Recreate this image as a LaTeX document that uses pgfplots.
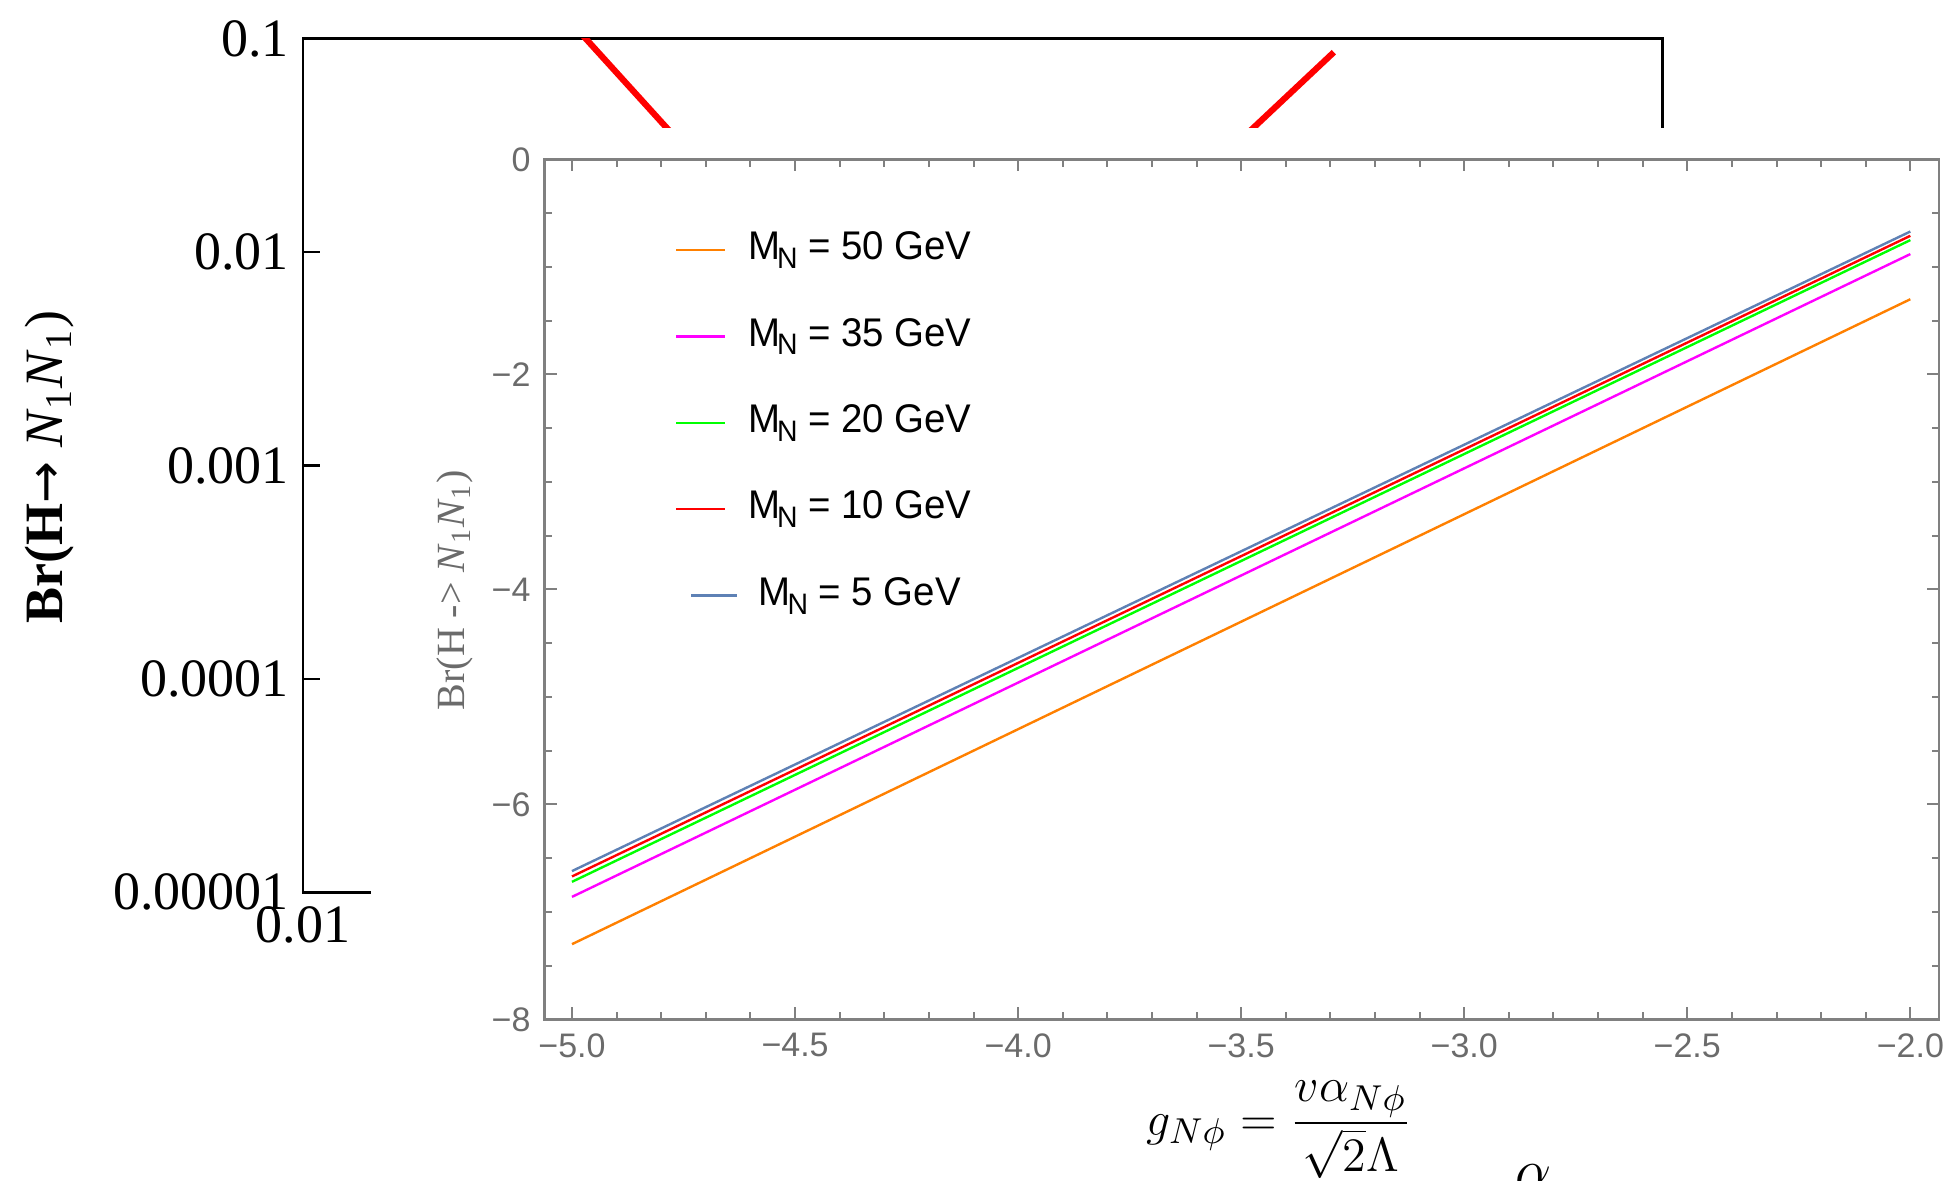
\documentclass[border=0pt]{standalone}
\usepackage{pgfplots}
\pgfplotsset{compat=1.18}
\usepackage{fontspec}
\setmainfont{Liberation Serif}
\newfontfamily\arial{Liberation Sans}
\newfontfamily\arialn{Liberation Sans}[FakeStretch=0.96]
\newfontfamily\dvs{DejaVu Sans}
\definecolor{mOrange}{rgb}{1,0.5,0}
\definecolor{mMag}{rgb}{1,0,1}
\definecolor{mGreen}{rgb}{0,1,0}
\definecolor{mRed}{rgb}{1,0,0}
\definecolor{mBlue}{rgb}{0.368417,0.506779,0.709798}
\definecolor{tickgray}{rgb}{0.42,0.42,0.42}
\definecolor{framegray}{rgb}{0.5,0.5,0.5}
\pgfplotsset{
  normleg/.style={legend image code/.code={\draw[##1] (0pt,0pt) -- (12.2pt,0pt);}},
  shiftleg/.style={legend image code/.code={\draw[##1] (3.75pt,0pt) -- (15.25pt,0pt);}},
}
\newcommand{\MN}[1]{M\kern-0.8pt\raisebox{-2.2pt}{\fontsize{7.4pt}{8pt}\selectfont N} = #1 GeV}
\begin{document}
\begin{tikzpicture}
\useasboundingbox (0pt,0pt) rectangle (488.5pt,295pt);
\clip (0pt,0pt) rectangle (488.5pt,295pt);
% background log-log axis
\begin{axis}[name=bg, anchor=south west, at={(75.7pt,71.925pt)},
  scale only axis, width=339.9pt, height=213.43pt,
  xmode=log, ymode=log, xmin=0.01, xmax=10, ymin=1e-5, ymax=0.1,
  xtick={0.01}, xticklabels={0.01},
  ytick={1e-5,1e-4,1e-3,1e-2,1e-1},
  yticklabels={0.00001,0.0001,0.001,0.01,0.1},
  xminorticks=false, yminorticks=false,
  ytick pos=left, xtick pos=bottom,
  major tick length=4.35pt,
  tick style={black, line width=0.6pt},
  axis line style={black, line width=0.6pt},
  tick label style={font=\fontsize{13.5pt}{15pt}\selectfont},
]
\addplot[mRed, line width=1.55pt] coordinates {(0.0401,0.112) (0.1,0.0132) (0.4,0.003) (0.631,0.0098) (1.249,0.0380) (1.884,0.0863)};
\end{axis}
\node[rotate=90, font=\fontsize{13.5pt}{15pt}\selectfont] at (12.5pt,178.25pt) {\textbf{Br(H}{\dvs\fontsize{12.5pt}{15pt}\selectfont →} \textit{N}\textsubscript{1}\textit{N}\textsubscript{1})};
% white inset background
\fill[white] (92.85pt,0pt) rectangle (488.5pt,262.9pt);
\begin{axis}[name=inset, anchor=south west, at={(136.15pt,40.15pt)},
  scale only axis, width=348.6pt, height=214.98pt,
  xmin=-5.0614, xmax=-1.9357, ymin=-8, ymax=0,
  xtick={-5,-4.5,-4,-3.5,-3,-2.5,-2},
  xticklabels={−5.0,−4.5,−4.0,−3.5,−3.0,−2.5,−2.0},
  ytick={-8,-6,-4,-2,0},
  yticklabels={−8,−6,−4,−2,0},
  minor x tick num=4, minor y tick num=3,
  major tick length=3pt, minor tick length=1.8pt,
  tick style={framegray, line width=0.5pt},
  axis line style={framegray, line width=0.6pt},
  tick label style={font=\arial\fontsize{8.5pt}{10pt}\selectfont, text=tickgray},
  legend cell align=center,
  normleg,
  legend style={at={(0.0928,0.9178)}, anchor=north west, draw=none, fill=none,
    inner sep=0pt, row sep=12.1pt, column sep=2.5pt,
    font=\arialn\fontsize{10pt}{12pt}\selectfont,
    nodes={inner sep=0pt, text height=7.2pt, text depth=2.3pt}},
]
\addplot[mOrange, line width=0.6pt] coordinates {(-5,-7.30) (-2,-1.30)};
\addlegendentry{\MN{50}}
\addplot[mMag, line width=0.6pt] coordinates {(-5,-6.86) (-2,-0.88)};
\addlegendentry{\MN{35}}
\addplot[mGreen, line width=0.6pt] coordinates {(-5,-6.72) (-2,-0.75)};
\addlegendentry{\MN{20}}
\addplot[mRed, line width=0.6pt] coordinates {(-5,-6.67) (-2,-0.71)};
\addlegendentry{\MN{10}}
\addplot[mBlue, line width=0.6pt, shiftleg] coordinates {(-5,-6.62) (-2,-0.67)};
\addlegendentry{\MN{5}}
\end{axis}
\node[rotate=90, text=tickgray, font=\fontsize{10pt}{12pt}\selectfont] at (113.75pt,147.5pt) {Br(H -> \textit{N}\textsubscript{1}\textit{N}\textsubscript{1})};
\node[anchor=base, font=\fontsize{13pt}{15pt}\selectfont] at (319.75pt,11.25pt) {$\displaystyle g_{N\phi} = \frac{v\alpha_{N\phi}}{\sqrt{2}\Lambda}$};
\node[anchor=base west, inner sep=0pt, font=\fontsize{14pt}{16pt}\selectfont] at (378.75pt,-2.25pt) {$\alpha_{\lower3pt\hbox{$\scriptstyle N\phi$}}$};
\end{tikzpicture}
\end{document}
